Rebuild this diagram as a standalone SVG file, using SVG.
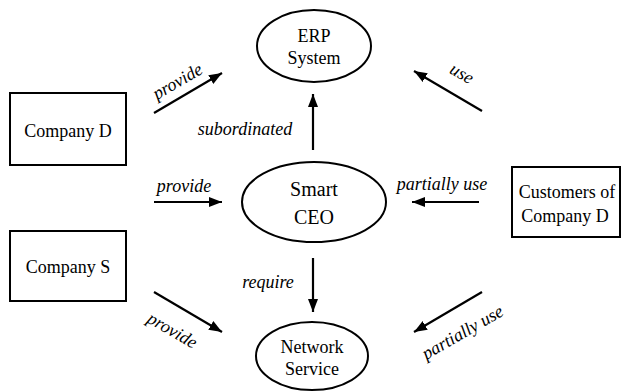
<svg xmlns="http://www.w3.org/2000/svg" width="622" height="391" viewBox="0 0 622 391">
<style>
.shape{fill:#fff;stroke:#000;stroke-width:2}
.t{font-family:"Liberation Serif","Times New Roman",serif;font-size:18px;fill:#000;text-anchor:middle}
.big{font-size:20px}
.lbl{font-family:"Liberation Serif","Times New Roman",serif;font-size:18px;font-style:italic;fill:#000;text-anchor:middle}
.edge{stroke:#000;stroke-width:2.2;fill:none;marker-end:url(#ah)}
</style>
<defs>
<marker id="ah" markerUnits="userSpaceOnUse" markerWidth="14" markerHeight="12" viewBox="0 0 14 12" refX="13" refY="6" orient="auto">
<path d="M0,1 L13,6 L0,11 Z" fill="#000"/>
</marker>
</defs>
<rect width="622" height="391" fill="#fff"/>
<g id="erp"><ellipse class="shape" cx="314" cy="46" rx="57" ry="36"/><text class="t" x="314" y="42">ERP</text><text class="t" x="314" y="64">System</text></g>
<g id="ceo"><ellipse class="shape" cx="314" cy="202" rx="72" ry="40"/><text class="t big" x="314" y="196">Smart</text><text class="t big" x="314" y="224">CEO</text></g>
<g id="network"><ellipse class="shape" cx="312" cy="356" rx="56" ry="34"/><text class="t" x="312" y="353">Network</text><text class="t" x="312" y="375">Service</text></g>
<g id="companyD"><rect class="shape" x="10" y="93" width="116" height="72"/><text class="t" x="68" y="137">Company D</text></g>
<g id="companyS"><rect class="shape" x="10" y="231" width="116" height="70"/><text class="t" x="68" y="273">Company S</text></g>
<g id="customers"><rect class="shape" x="512" y="167" width="108" height="70"/><text class="t" x="567" y="198">Customers of</text><text class="t" x="565" y="222">Company D</text></g>
<g id="connectors">
<path class="edge" d="M154,113 L222,73"/>
<path class="edge" d="M313,150 L313,94"/>
<path class="edge" d="M482,111 L414,71"/>
<path class="edge" d="M154,202 L222,202"/>
<path class="edge" d="M479,202 L412,202"/>
<path class="edge" d="M313,258 L313,312"/>
<path class="edge" d="M154,292 L222,332"/>
<path class="edge" d="M482,292 L414,332"/>
<text class="lbl" transform="translate(178,82) rotate(-30)" y="5">provide</text>
<text class="lbl" x="245" y="135">subordinated</text>
<text class="lbl" transform="translate(461,75) rotate(30)" y="4">use</text>
<text class="lbl" x="184" y="192">provide</text>
<text class="lbl" x="442" y="190">partially use</text>
<text class="lbl" x="268" y="288">require</text>
<text class="lbl" transform="translate(172,331) rotate(30)" y="5">provide</text>
<text class="lbl" transform="translate(463,333) rotate(-30)" y="5">partially use</text>
</g>
</svg>
